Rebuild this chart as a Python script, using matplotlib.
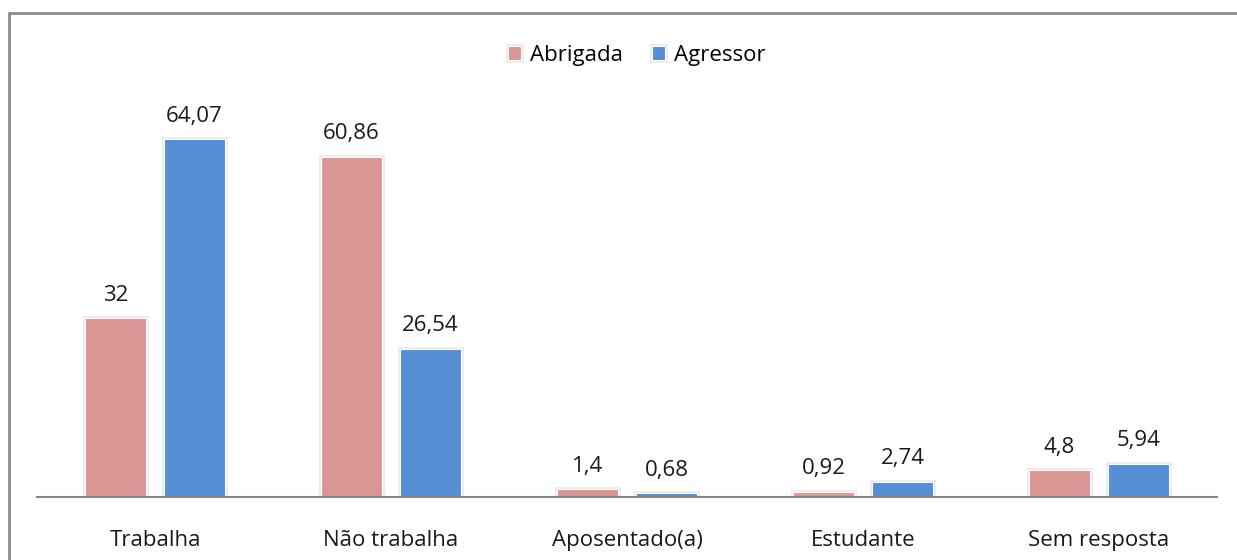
import matplotlib.pyplot as plt
import matplotlib.patheffects as pe
from matplotlib.patches import Rectangle
import numpy as np

# --- Data ---
categories = ["Trabalha", "Não trabalha", "Aposentado(a)", "Estudante", "Sem resposta"]
abrigada = [32, 60.86, 1.4, 0.92, 4.8]
agressor = [64.07, 26.54, 0.68, 2.74, 5.94]
abrigada_labels = ["32", "60,86", "1,4", "0,92", "4,8"]
agressor_labels = ["64,07", "26,54", "0,68", "2,74", "5,94"]

PINK = "#d99694"
BLUE = "#558ed5"
FS = 16

plt.rcParams["font.family"] = ["Open Sans", "DejaVu Sans"]

fig = plt.figure(figsize=(12.37, 5.6), dpi=100)
ax = fig.add_axes([37 / 1237, 63 / 560, 1180 / 1237, 447 / 560])

x = np.arange(len(categories))
w = 0.26
off = 0.167
shadow = [pe.withStroke(linewidth=3.5, foreground="#ececec")]

b1 = ax.bar(x - off, abrigada, w, color=PINK, label="Abrigada",
            edgecolor="white", linewidth=0.8, path_effects=shadow)
b2 = ax.bar(x + off, agressor, w, color=BLUE, label="Agressor",
            edgecolor="white", linewidth=0.8, path_effects=shadow)

for bars, labels in ((b1, abrigada_labels), (b2, agressor_labels)):
    for bar, lab in zip(bars, labels):
        ax.annotate(lab, (bar.get_x() + bar.get_width() / 2, bar.get_height()),
                    xytext=(0, 9), textcoords="offset points",
                    ha="center", va="bottom", fontsize=FS, color="#1a1a1a")

ax.set_xlim(-0.5, len(categories) - 0.5)
ax.set_ylim(0, 80)
ax.set_xticks(x)
ax.set_xticklabels(categories, fontsize=FS, color="#1a1a1a")
ax.tick_params(axis="x", length=0, pad=24)
ax.set_yticks([])
for s in ("top", "left", "right"):
    ax.spines[s].set_visible(False)
ax.spines["bottom"].set_color("#868686")
ax.spines["bottom"].set_linewidth(1.5)

leg = fig.legend(loc="center", bbox_to_anchor=(637 / 1237, 1 - 55 / 560),
                 ncol=2, frameon=False, fontsize=FS, handlelength=0.6,
                 handleheight=0.6, handletextpad=0.4, columnspacing=1.3)

# chart border (only left and top visible in the crop)
fig.add_artist(Rectangle((8.5 / 1237, -0.1), 1.2, 1 - 12.5 / 560 + 0.1,
                         transform=fig.transFigure, fill=False,
                         edgecolor="#8c8c8c", linewidth=2))

fig.savefig("out.png", dpi=100)
